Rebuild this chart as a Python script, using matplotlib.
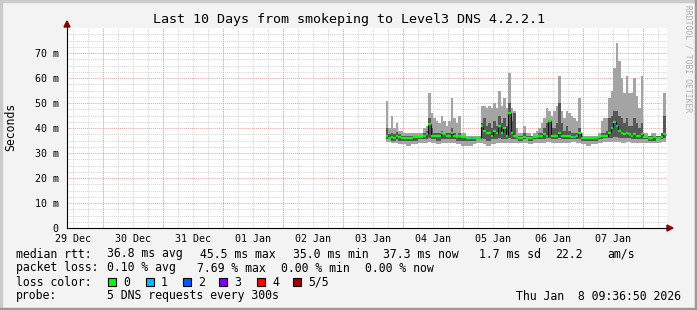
import matplotlib
matplotlib.use('Agg')
import matplotlib.pyplot as plt
from matplotlib.lines import Line2D
from matplotlib.patches import Polygon, Rectangle
import numpy as np

plt.rcParams['font.family'] = 'DejaVu Sans Mono'

# hourly consolidated smoke data, one value per hour (ms), hours since chart start
first_hour = 127.4
ping_max = [51, 40, 45, 40, 42, 39, 39, 38, 38, 38, 38, 38, 38, 38, 38, 40, 41, 54, 46, 44,
            43, 42, 45, 43, 41, 43, 52, 44, 42, 45, 38, 38, 37, 37, 37, 37, 37, 37, 49, 49,
            48, 49, 48, 50, 48, 55, 49, 52, 48, 62, 48, 47, 40, 38, 38, 41, 38, 38, 37, 38,
            39, 40, 42, 44, 48, 47, 45, 47, 49, 61, 47, 44, 47, 46, 45, 44, 43, 52, 38, 37,
            37, 37, 37, 37, 37, 38, 43, 44, 44, 52, 55, 64, 74, 67, 60, 54, 61, 54, 54, 60,
            53, 48, 61, 38, 38, 37, 38, 38, 37, 37, 38, 54]
ping_min = [34.5, 34.5, 34, 34, 34, 33.5, 33.5, 33.5, 33, 33, 33.5, 33.5, 33.5, 34, 34, 34, 34, 34.5, 34, 34,
            33.5, 33.5, 34, 34, 34, 34, 34, 34, 33.5, 33.5, 33, 33, 33, 33, 33, 33.5, 34, 34, 34, 33.5,
            33, 33, 33.5, 33.5, 34, 34, 34, 34, 34, 34, 34, 34, 34, 34, 34, 34, 34, 33.5, 33.5, 34,
            34, 34, 34, 34, 34.5, 34.5, 34, 34, 34, 34, 34, 34, 34, 34, 34.5, 34.5, 34, 34, 33.5, 33.5,
            33, 33, 33.5, 33.5, 33.5, 34, 34, 34.5, 34.5, 34.5, 34.5, 34.5, 34.5, 34.5, 34, 34, 34.5, 34.5, 34, 34,
            34, 34, 34, 34, 34, 34, 34, 34, 34, 34, 34.5, 34.5]
ping_q2 = [35.5, 35.5, 35, 35, 35.5, 35, 35, 35, 35, 35, 35, 35, 35, 35.5, 35.5, 35.5, 35.5, 36, 35.5, 35.5,
           35, 35, 35.5, 35.5, 35.5, 35.5, 35.5, 35.5, 35, 35, 35, 35, 35, 35, 35, 35, 35.5, 35.5, 36, 35.5,
           35, 35, 35.5, 35.5, 35.5, 36, 35.5, 35.5, 35.5, 36, 35.5, 35.5, 35.5, 35, 35, 35.5, 35.5, 35, 35, 35.5,
           35.5, 35.5, 35.5, 35.5, 36, 36, 35.5, 35.5, 35.5, 36, 35.5, 35.5, 35.5, 35.5, 35.5, 35.5, 35.5, 35.5, 35, 35,
           35, 35, 35, 35, 35, 35.5, 35.5, 36, 36, 36, 36, 36.5, 36.5, 36, 36, 36, 36, 36, 35.5, 35.5,
           35.5, 35.5, 35.5, 35.5, 35.5, 35, 35, 35, 35.5, 35.5, 35.5, 36]
ping_q4 = [40, 37.5, 38, 37.5, 38.5, 37.5, 37, 37, 37, 37, 37, 37, 37, 37, 37, 38, 39, 44, 40, 38,
           38, 38, 39, 38, 38, 38, 40, 38, 37, 38, 37, 37, 36.5, 36.5, 36.5, 36.5, 36.5, 36.5, 42, 44,
           41, 42, 40, 43, 41, 45, 42, 44, 41, 50, 43, 46, 37, 37, 37, 38, 37, 37, 37, 37,
           37, 38, 38, 40, 42, 43, 40, 40, 42, 50, 42, 39, 41, 39, 38, 38, 38, 40, 37, 36.5,
           36.5, 36.5, 36.5, 36.5, 36.5, 37, 38, 38, 39, 44, 45, 47, 47, 45, 44, 42, 44, 41, 41, 44,
           42, 40, 42, 37, 37, 37, 37, 37, 37, 37, 38, 45]
median = [37, 36, 36.5, 36, 37, 36.5, 36, 36, 36, 36, 36, 36.5, 36.5, 36.5, 36.5, 37, 37.5, 41.5, 37, 37,
          37, 37, 38, 37.5, 37, 37, 38, 37, 36.5, 37, 36.5, 36.5, 36, 36, 36, 36, 36, 36, 41, 39,
          38, 38, 37, 39, 38, 41, 38, 40, 37, 46, 38, 37, 36.5, 36, 36, 36.5, 36, 36, 36, 36.5,
          36.5, 37, 37, 37.5, 37, 43, 37, 37, 37, 38, 37, 37, 37, 37, 36.5, 36.5, 37, 38, 36, 36,
          36, 36, 36, 36, 36, 36.5, 37, 37, 37, 38, 40, 42.5, 41, 39, 38, 37.5, 38, 37.5, 37, 37.5,
          37, 37, 37.5, 36.5, 36.5, 36, 36, 36.5, 36, 36, 36.5, 37.5]
loss = [0] * 112
loss[34] = 1
loss[75] = 1
loss[92] = 1

loss_colors = ['#00ff00', '#00b8ff', '#0059ff', '#7e00ff', '#ff0000', '#a10000']
loss_labels = ['0', '1', '2', '3', '4', '5/5']
day_labels = ['29 Dec', '30 Dec', '31 Dec', '01 Jan', '02 Jan', '03 Jan', '04 Jan', '05 Jan', '06 Jan', '07 Jan']
first_midnight = 14.386  # hours from chart start (Dec 29 09:36:50) to Dec 30 00:00
y_ticks = [0, 10, 20, 30, 40, 50, 60, 70]
y_labels = ['0', '10 m', '20 m', '30 m', '40 m', '50 m', '60 m', '70 m']

W, H = 697, 310
fig = plt.figure(figsize=(W / 100, H / 100), dpi=100, facecolor='#f3f3f3')
fx = lambda x: x / W
fy = lambda y: 1 - y / H

ax = fig.add_axes([fx(67), fy(228), 600 / W, 200 / H])
ax.set_facecolor('white')
ax.set_xlim(0, 240)
ax.set_ylim(0, 80)
for s in ax.spines.values():
    s.set_visible(False)

# grid
for h in np.arange(first_midnight - 12, 240, 6):
    ax.axvline(h, color='#d4d4d4', lw=0.7, ls=(0, (1, 1)), zorder=0)
for h in np.arange(first_midnight, 240, 24):
    ax.axvline(h, color='#eaa0a0', lw=0.7, ls=(0, (1, 1)), zorder=0.5)
for v in np.arange(2.5, 80, 2.5):
    if v % 10:
        ax.axhline(v, color='#d4d4d4', lw=0.7, ls=(0, (1, 1)), zorder=0)
for v in y_ticks[1:]:
    ax.axhline(v, color='#eaa0a0', lw=0.7, ls=(0, (1, 1)), zorder=0.5)

# smoke
n = len(ping_max)
left = first_hour + np.arange(n)
ax.bar(left, np.array(ping_max) - np.array(ping_min), bottom=ping_min, width=1.0,
       align='edge', color='#a4a4a4', linewidth=0, zorder=2)
ax.bar(left, np.array(ping_q4) - np.array(ping_q2), bottom=ping_q2, width=1.0,
       align='edge', color='#585858', linewidth=0, zorder=3)
edges = np.append(left, left[-1] + 1)
ax.stairs(median, edges, baseline=None, color='#111111', lw=0.8, zorder=4)
ax.hlines(median, left, left + 1, colors=[loss_colors[l] for l in loss], lw=1.6, zorder=5)

ax.set_yticks(y_ticks)
ax.set_yticklabels(y_labels)
ax.set_xticks(np.arange(first_midnight - 12, 240, 24))
ax.set_xticklabels(day_labels)
ax.tick_params(length=0, labelsize=7.2, pad=4, colors='#000000')
ax.tick_params(axis='y', pad=6)

# axes lines with arrows
fig.add_artist(Line2D([fx(67), fx(667)], [fy(228), fy(228)], color='#000000', lw=0.8))
fig.add_artist(Line2D([fx(67), fx(67)], [fy(228), fy(26)], color='#000000', lw=0.8))
fig.add_artist(Polygon([[fx(667), fy(225)], [fx(673), fy(228)], [fx(667), fy(231)]],
                       closed=True, color='#8b0000', transform=fig.transFigure))
fig.add_artist(Polygon([[fx(64), fy(27)], [fx(67), fy(21)], [fx(70), fy(27)]],
                       closed=True, color='#8b0000', transform=fig.transFigure))

# frame shading
fig.add_artist(Rectangle((0, fy(2)), 1, 2 / H, color='#cbcbcb', transform=fig.transFigure))
fig.add_artist(Rectangle((0, 0), 2 / W, 1, color='#cbcbcb', transform=fig.transFigure))
fig.add_artist(Rectangle((0, 0), 1, 2 / H, color='#999999', transform=fig.transFigure))
fig.add_artist(Rectangle((fx(695), 0), 2 / W, 1, color='#999999', transform=fig.transFigure))

fig.text(fx(349), fy(19), 'Last 10 Days from smokeping to Level3 DNS 4.2.2.1',
         ha='center', va='center', fontsize=9.6)
fig.text(fx(11), fy(127), 'Seconds', rotation=90, ha='center', va='center', fontsize=8.3)
fig.text(fx(688), fy(59), 'RRDTOOL / TOBI OETIKER', rotation=270, ha='center', va='center',
         fontsize=5.8, color='#b0b0b0')

fs = 8.3
rows = [
    (254, [(16, 'median rtt:'), (107, '36.8 ms avg'), (200, '45.5 ms max'), (293, '35.0 ms min'),
           (383, '37.3 ms now'), (479, '1.7 ms sd'), (555, '22.2'), (607, 'am/s')]),
    (268, [(16, 'packet loss:'), (107, '0.10 % avg'), (197, '7.69 % max'), (281, '0.00 % min'),
           (365, '0.00 % now')]),
    (282, [(16, 'loss color:')]),
    (296, [(16, 'probe:'), (107, '5 DNS requests every 300s')]),
]
for y, items in rows:
    for x, t in items:
        fig.text(fx(x), fy(y), t, ha='left', va='center', fontsize=fs)
fig.text(fx(681), fy(296), 'Thu Jan  8 09:36:50 2026', ha='right', va='center', fontsize=fs)

box_x = [108, 146, 183, 219, 257, 293]
for bx, c, lab in zip(box_x, loss_colors, loss_labels):
    fig.add_artist(Rectangle((fx(bx), fy(286)), 8 / W, 8 / H, facecolor=c, edgecolor='black',
                             lw=0.8, transform=fig.transFigure))
    fig.text(fx(bx + 15), fy(282), lab, ha='left', va='center', fontsize=fs)

fig.savefig('out.png', dpi=100, facecolor=fig.get_facecolor())
